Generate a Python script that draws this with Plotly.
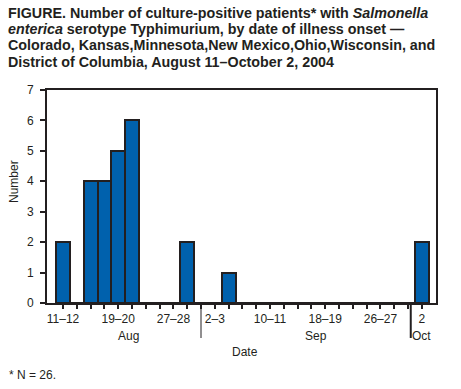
import plotly.graph_objects as go

# ---- data ----
bins = ["Aug 11–12", "Aug 13–14", "Aug 15–16", "Aug 17–18", "Aug 19–20", "Aug 21–22",
        "Aug 23–24", "Aug 25–26", "Aug 27–28", "Aug 29–30", "Aug 31–Sep 1",
        "Sep 2–3", "Sep 4–5", "Sep 6–7", "Sep 8–9", "Sep 10–11", "Sep 12–13",
        "Sep 14–15", "Sep 16–17", "Sep 18–19", "Sep 20–21", "Sep 22–23",
        "Sep 24–25", "Sep 26–27", "Sep 28–29", "Sep 30–Oct 1", "Oct 2"]
counts = [2, 0, 4, 4, 5, 6, 0, 0, 0, 2, 0,
          0, 1, 0, 0, 0, 0, 0, 0, 0, 0, 0, 0, 0, 0, 0, 2]
tick_labels = {"Aug 11–12": "11–12", "Aug 19–20": "19–20", "Aug 27–28": "27–28",
               "Sep 2–3": "2–3", "Sep 10–11": "10–11", "Sep 18–19": "18–19",
               "Sep 26–27": "26–27", "Oct 2": "2"}
months = ["Aug", "Sep", "Oct"]
month_pos = [4.75, 18.3, 26]          # bin-index positions of month labels
month_dividers = [10, 25.2]           # bin-index positions of month separators
title_lines = [
    "<b>FIGURE. Number of culture-positive patients* with <i>Salmonella</i></b>",
    "<b><i>enterica</i> serotype Typhimurium, by date of illness onset —</b>",
    "<b>Colorado, Kansas,Minnesota,New Mexico,Ohio,Wisconsin, and</b>",
    "<b>District of Columbia, August 11–October 2, 2004</b>",
]
footnote = "* N = 26."

W, H = 461, 389
L, R, T, B = 47, 25, 90, 86
PW, PH = W - L - R, H - T - B
INK = "#231F20"
FONT = "Liberation Sans, Arial, Helvetica, sans-serif"
FS = 12


def pxx(x):
    return (x - L) / PW


def pxy(y):
    return (H - B - y) / PH


fig = go.Figure()
fig.add_trace(go.Bar(
    x=bins, y=counts, width=1,
    marker=dict(color="#0061AD", line=dict(color=INK, width=2)),
    hoverinfo="skip",
))

fig.update_layout(
    width=W, height=H,
    margin=dict(l=L, r=R, t=T, b=B),
    plot_bgcolor="white", paper_bgcolor="white",
    showlegend=False,
    font=dict(family=FONT, size=FS, color=INK),
    bargap=0,
)
fig.update_xaxes(
    type="category", categoryorder="array", categoryarray=bins,
    range=[-1.16, 27.03],
    tickmode="array", tickvals=bins,
    ticktext=[tick_labels.get(b, "") for b in bins],
    ticks="outside", ticklen=4, tickwidth=1.5, tickcolor=INK,
    showline=True, linecolor=INK, linewidth=2, mirror=True,
    showgrid=False, zeroline=False,
    tickfont=dict(size=FS, color=INK),
)
fig.update_yaxes(
    range=[0, 7], dtick=1, tick0=0,
    ticks="outside", ticklen=5, tickwidth=1.5, tickcolor=INK,
    showline=True, linecolor=INK, linewidth=2, mirror=True,
    showgrid=False, zeroline=False,
    tickfont=dict(size=FS, color=INK), ticklabelstandoff=4,
)

for xpos, lw in zip(month_dividers, [1, 2]):
    fig.add_shape(type="line", xref="x", yref="paper",
                  x0=xpos, x1=xpos, y0=0, y1=pxy(338),
                  line=dict(color=INK, width=lw))

annos = []
for m, xp in zip(months, month_pos):
    annos.append(dict(text=m, x=xp, xref="x", y=pxy(336), yref="paper",
                      xanchor="center", yanchor="middle", showarrow=False,
                      font=dict(size=FS, color=INK)))
annos.append(dict(text="Date", x=pxx(245), xref="paper", y=pxy(352), yref="paper",
                  xanchor="center", yanchor="middle", showarrow=False,
                  font=dict(size=FS, color=INK)))
annos.append(dict(text="Number", x=pxx(14), xref="paper", y=pxy(182), yref="paper",
                  xanchor="center", yanchor="middle", showarrow=False, textangle=-90,
                  font=dict(size=FS, color=INK)))
annos.append(dict(text=footnote, x=pxx(7), xref="paper", y=pxy(375), yref="paper",
                  xanchor="left", yanchor="middle", showarrow=False,
                  font=dict(size=FS, color=INK)))
for i, line in enumerate(title_lines):
    annos.append(dict(text=line, x=pxx(6), xref="paper", y=pxy(12.5 + 16.5 * i), yref="paper",
                      xanchor="left", yanchor="middle", showarrow=False,
                      font=dict(size=14.3, color=INK)))
fig.update_layout(annotations=annos)

fig.write_html("out.html", config={"displayModeBar": False},
               post_script="document.body.style.margin='0';")
